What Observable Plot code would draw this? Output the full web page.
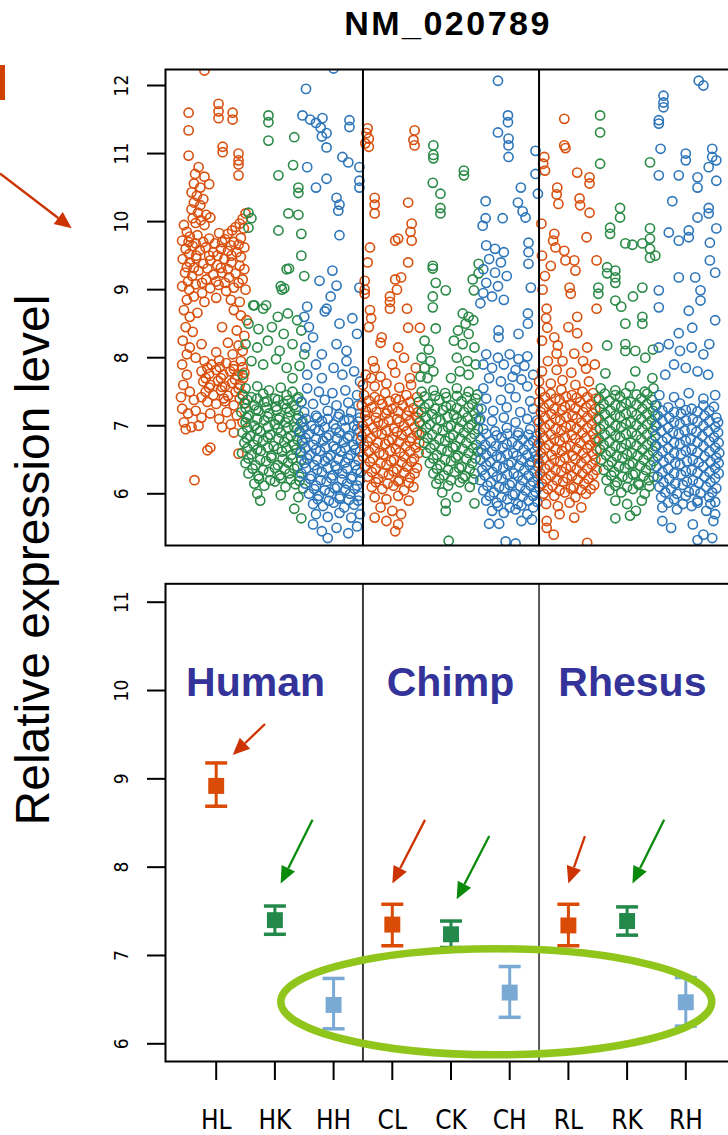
<!DOCTYPE html>
<html><head><meta charset="utf-8">
<script src="https://cdn.jsdelivr.net/npm/d3@7"></script>
<script src="https://cdn.jsdelivr.net/npm/@observablehq/plot@0.6"></script>
<style>
html,body{margin:0;padding:0;background:#fff;width:728px;height:1135px;overflow:hidden;}
#wrap{position:relative;width:728px;height:1135px;overflow:hidden;background:#fff;}
.abs{position:absolute;}
#title{left:248px;width:400px;top:6px;text-align:center;font:bold 34px "Liberation Sans",Arial,sans-serif;letter-spacing:2.5px;line-height:1;color:#000;}
#ylab{left:33px;top:560px;width:620px;text-align:center;font:48px "Liberation Sans",Arial,sans-serif;line-height:1;color:#000;transform:translate(-50%,-50%) rotate(-90deg);white-space:nowrap;}
#bar{left:0;top:65px;width:5px;height:35px;background:#D04000;}
#topplot{left:0;top:0;}
#botplot{left:0;top:560px;}
</style></head><body><div id="wrap">
<div id="title" class="abs">NM_020789</div>
<div id="ylab" class="abs">Relative expression level</div>
<div id="bar" class="abs"></div>
<div id="topplot" class="abs"></div>
<div id="botplot" class="abs"></div>
</div>
<script>
// ---------- data ----------
const groups = ["HL","HK","HH","CL","CK","CH","RL","RK","RH"];
const species = ["Human","Chimp","Rhesus"];
const speciesX = [1.67, 4.99, 8.09];
const speciesY = 10.09;
const topTicks = [6,7,8,9,10,11,12];
const bottomTicks = [6,7,8,9,10,11];
const dividers = [3.5, 6.5];

// bottom panel: mean and error-bar limits per group
const means = [8.92, 7.40, 6.44, 7.35, 7.24, 6.58, 7.34, 7.39, 6.47];
const lows  = [8.69, 7.24, 6.17, 7.11, 7.09, 6.30, 7.11, 7.23, 6.20];
const highs = [9.18, 7.56, 6.74, 7.58, 7.39, 6.875, 7.58, 7.55, 6.75];

// annotation arrows (data units): [x1, y1, x2, y2, tissue]
const bottomArrows = [
  [1.84, 9.615, 1.29, 9.264, "L"],
  [2.65, 8.53, 2.107, 7.81, "K"],
  [4.566, 8.53, 4.01, 7.81, "L"],
  [5.66, 8.347, 5.105, 7.63, "K"],
  [7.29, 8.347, 7.007, 7.81, "L"],
  [8.64, 8.53, 8.10, 7.81, "K"]
];
const topArrows = [[-2.675, 10.70, -1.453, 9.894, "L"]];
const ellipseCenter = [5.78, 6.47];

// top panel: jittered points per group, [jitter, expression]
const HL = [[.04,11.73],[.04,11.62],[.04,11.52],[-.47,11.6],[-.47,11.34],[-.47,10.97],[.28,11.6],[.28,11.5],[.11,11.1],[.11,11.02],[.38,11.0],[.38,10.9],[.38,10.84],[.38,10.68],[-.2,12.22],[-.12,10.55],
[-.3,10.8],[-.36,10.7],[-.2,10.66],[-.38,10.56],[-.27,10.5],[-.42,10.43],[-.33,10.38],[-.22,10.33],[-.38,10.28],[-.27,10.24],[-.42,10.18],[-.31,10.13],[-.17,10.1],[-.4,10.05],[-.26,10.02],[-.1,10.06],[-.35,9.98],[-.2,9.95],
[.5,10.12],[.45,10.04],[.4,9.97],[.33,9.92],[.27,9.87],[.2,9.82],[.47,9.9],
[-.55,9.95],[-.5,9.85],[-.58,9.72],[-.45,9.78],[-.32,9.8],[-.12,9.75],[.05,9.83],[.15,9.74],[.3,9.7],[.42,9.76],
[-.52,9.6],[-.4,9.64],[-.28,9.58],[-.18,9.62],[-.05,9.55],[.08,9.6],[.2,9.57],[.35,9.55],[.48,9.62],
[-.57,9.45],[-.45,9.4],[-.34,9.46],[-.22,9.38],[-.1,9.43],[.02,9.36],[.14,9.45],[.26,9.4],[.4,9.35],
[-.53,9.25],[-.41,9.2],[-.3,9.28],[-.17,9.15],[-.05,9.22],[.1,9.25],[.22,9.18],[.33,9.24],[.45,9.15],
[-.58,9.05],[-.46,9.0],[-.35,9.08],[-.24,8.95],[-.1,9.02],[.04,9.07],[.17,8.98],[.3,9.03],[.5,9.0],
[-.5,8.85],[-.38,8.9],[-.2,8.82],[.0,8.88],[.25,8.85],[.4,8.82],
[-.55,8.7],[-.45,8.6],[-.32,8.66],[.3,8.7],[.42,8.62],[.52,8.55],[-.52,8.45],[-.4,8.38],[.1,8.45],[.35,8.4],[.48,8.32],[-.57,8.25],[-.45,8.15],[-.25,8.2],[.2,8.22],[.38,8.18],[-.5,8.05],[-.35,8.0],[.0,8.08],[.28,8.05],[.45,8.1],
[-.2,7.95],[-.08,7.9],[.05,7.96],[.17,7.92],[.3,7.88],[.42,7.95],
[-.25,7.8],[-.12,7.76],[.0,7.82],[.12,7.75],[.24,7.8],[.36,7.74],[.48,7.78],
[-.22,7.65],[-.1,7.6],[.03,7.66],[.15,7.58],[.27,7.63],[.4,7.6],
[-.18,7.5],[-.05,7.45],[.08,7.52],[.2,7.44],[.33,7.5],[.45,7.46],
[-.58,7.9],[-.5,7.75],[-.56,7.6],[-.45,7.5],[-.6,7.42],[-.38,7.38],
[-.15,7.35],[.0,7.32],[.15,7.36],[.3,7.3],[.5,7.33],
[-.58,7.25],[-.48,7.18],[-.35,7.22],[-.25,7.12],[-.1,7.18],[.05,7.1],[.18,7.2],[.35,7.15],[.45,7.05],[-.55,7.05],[-.42,6.98],[-.3,7.0],[.1,6.98],[.25,7.02],
[-.52,6.95],[-.1,6.68],[-.15,6.64],[.38,6.59],[.3,6.9],[-.37,6.2],
[-.47,9.7],[-.35,9.68],[-.22,9.7],[-.02,9.68],[.1,9.7],[.25,9.65],[.38,9.66],
[-.46,9.52],[-.34,9.5],[-.12,9.5],[.02,9.5],[.26,9.5],[.42,9.48],
[-.5,9.33],[-.38,9.32],[-.15,9.31],[.08,9.32],[.2,9.3],[.48,9.3],
[-.48,9.12],[-.24,9.1],[.0,9.12],[.15,9.1],[.38,9.1],
[-.15,7.85],[.06,7.86],[.3,7.83],[.45,7.86],
[-.18,7.7],[.08,7.7],[.32,7.68],[.46,7.7],
[-.12,7.56],[.1,7.57],[.38,7.55],
[-.25,7.42],[.13,7.4],[.4,7.4]];

const HK = [[-.11,11.56],[-.11,11.46],[-.11,11.19],[.33,11.24],[.06,10.68],[.31,10.83],[.4,10.5],[.4,10.42],[.23,10.12],[.4,10.1],[.06,9.87],[.45,9.82],[-.45,10.13],[-.4,10.05],[-.45,9.91],[.45,9.5],[.24,9.31],[.5,9.2],[.16,9.02],[.12,9.0],[-.35,8.77],[-.15,8.77],[.1,9.05],[.2,9.3],
[-.37,8.77],[-.2,8.72],[.05,8.6],[.22,8.65],[.38,8.55],[-.45,8.5],[-.28,8.42],[-.05,8.45],[.15,8.35],[.45,8.4],[-.5,8.2],[-.3,8.15],[-.12,8.25],[.08,8.1],[.3,8.2],[.5,8.05],[-.4,7.95],[-.2,7.9],[.02,7.98],[.2,7.85],[.42,7.88],[-.55,7.75],[.3,7.7],
[-.5,7.55],[-.3,7.58],[-.1,7.52],[.1,7.56],[.3,7.5],
[-.55,7.45],[-.4,7.42],[-.2,7.47],[0,7.4],[.2,7.45],[.4,7.42],
[-.52,7.33],[-.35,7.3],[-.18,7.35],[.02,7.28],[.15,7.32],[.32,7.3],[.45,7.35],
[-.57,7.2],[-.45,7.15],[-.28,7.22],[-.1,7.18],[.08,7.12],[.25,7.2],[.4,7.15],
[-.5,7.05],[-.35,7.0],[-.18,7.08],[0,7.02],[.18,7.05],[.33,6.98],[.47,7.06],
[-.55,6.9],[-.42,6.85],[-.25,6.92],[-.08,6.87],[.1,6.9],[.27,6.85],[.42,6.92],
[-.52,6.75],[-.36,6.72],[-.2,6.78],[-.02,6.7],[.16,6.76],[.32,6.72],[.46,6.78],
[-.56,6.6],[-.4,6.58],[-.24,6.63],[-.06,6.56],[.12,6.62],[.28,6.57],[.44,6.62],
[-.5,6.45],[-.33,6.42],[-.15,6.48],[.05,6.42],[.22,6.46],[.38,6.4],
[-.45,6.3],[-.28,6.26],[-.1,6.32],[.08,6.27],[.25,6.3],[.42,6.25],
[-.35,6.15],[-.18,6.12],[0,6.18],[.18,6.1],[.35,6.14],[.48,6.08],
[-.3,6.0],[-.25,5.9],[.33,5.78],[.45,5.64],[.1,5.98],[.4,5.95],
[-.47,7.38],[-.3,7.4],[-.13,7.36],[.05,7.38],[.22,7.37],[.38,7.4],
[-.5,7.26],[-.32,7.24],[-.15,7.27],[.03,7.23],[.2,7.26],[.36,7.24],
[-.48,7.12],[-.3,7.1],[-.12,7.13],[.06,7.09],[.22,7.12],[.38,7.1],
[-.47,6.97],[-.3,6.95],[-.12,6.98],[.05,6.96],[.22,6.97],[.38,6.95],
[-.48,6.82],[-.3,6.8],[-.12,6.83],[.06,6.81],[.22,6.82],[.38,6.8],
[-.47,6.67],[-.3,6.65],[-.12,6.68],[.05,6.66],[.2,6.67],[.36,6.65],
[-.45,6.52],[-.25,6.5],[-.06,6.53],[.13,6.51],[.3,6.52],[.45,6.5],
[-.38,6.37],[-.2,6.35],[0,6.38],[.17,6.36],[.33,6.37],
[-.27,6.22],[-.08,6.2],[.1,6.23],[.27,6.21],[.42,6.19]];

const HH = [[-.47,11.95],[-.53,11.56],[-.4,11.5],[-.3,11.45],[-.19,11.52],[-.22,11.38],[-.12,11.3],[-.2,11.25],[.27,11.49],[.27,11.39],[-.12,11.09],[-.45,10.8],[.15,10.95],[.25,10.87],[-.3,10.5],[-.12,10.63],[.05,10.35],[.1,10.25],[.08,10.16],[.1,9.8],[-.02,9.28],[-.24,9.13],[.05,9.06],[.44,9.03],[.44,10.8],[.44,10.6],[.44,10.5],[.0,12.25],
[-.45,8.75],[-.12,8.72],[-.15,8.68],[.32,8.58],[-.5,8.6],[-.42,8.45],[-.35,8.3],[-.48,8.15],[.22,8.1],[.22,7.95],[-.2,8.05],[.05,8.2],[.4,8.35],[-.3,7.9],[0,7.85],[.15,7.75],[.35,7.8],[-.45,7.75],[-.2,7.7],[.45,7.65],[.1,8.5],[-.05,8.9],
[-.45,7.55],[-.25,7.5],[-.02,7.48],[.2,7.52],[.4,7.45],
[-.55,7.35],[-.35,7.32],[-.15,7.38],[.05,7.3],[.25,7.34],[.42,7.3],
[-.5,7.2],[-.3,7.15],[-.1,7.22],[.1,7.17],[.3,7.2],[.45,7.12],
[-.55,7.05],[-.38,7.0],[-.2,7.07],[0,7.02],[.18,7.08],[.35,7.0],
[-.58,6.9],[-.42,6.88],[-.25,6.93],[-.08,6.86],[.1,6.9],[.27,6.85],[.44,6.92],
[-.52,6.75],[-.35,6.72],[-.18,6.78],[0,6.7],[.17,6.76],[.34,6.72],[.46,6.78],
[-.56,6.6],[-.4,6.57],[-.23,6.63],[-.05,6.56],[.12,6.62],[.29,6.57],[.45,6.62],
[-.5,6.45],[-.33,6.42],[-.15,6.48],[.03,6.41],[.2,6.46],[.37,6.42],
[-.55,6.3],[-.38,6.26],[-.2,6.32],[-.02,6.27],[.15,6.3],[.32,6.25],[.46,6.31],
[-.48,6.15],[-.3,6.12],[-.12,6.18],[.06,6.1],[.23,6.15],[.4,6.12],
[-.42,6.0],[-.25,5.97],[-.07,6.02],[.11,5.96],[.28,6.0],[.44,5.97],
[-.35,5.85],[-.18,5.82],[0,5.87],[.18,5.8],[.35,5.84],
[-.3,5.7],[-.1,5.66],[.1,5.72],[.3,5.65],[.45,5.7],
[-.35,5.55],[-.2,5.45],[.05,5.5],[.25,5.42],[.4,5.52],[-.1,5.35],
[-.47,7.1],[-.28,7.12],[-.1,7.1],[.08,7.13],[.26,7.1],[.42,7.06],
[-.5,6.97],[-.32,6.95],[-.15,6.98],[.04,6.96],[.2,6.97],[.4,6.95],
[-.48,6.82],[-.3,6.8],[-.12,6.83],[.06,6.81],[.24,6.82],[.4,6.8],
[-.48,6.67],[-.3,6.65],[-.14,6.68],[.04,6.66],[.2,6.67],[.37,6.65],
[-.45,6.52],[-.28,6.5],[-.1,6.53],[.08,6.51],[.25,6.52],[.42,6.5],
[-.47,6.37],[-.28,6.35],[-.1,6.38],[.06,6.36],[.23,6.37],[.4,6.35],
[-.4,6.22],[-.22,6.2],[-.04,6.23],[.14,6.21],[.3,6.22],[.45,6.2],
[-.33,6.07],[-.15,6.05],[.02,6.08],[.2,6.06],[.36,6.07],
[-.27,5.92],[-.08,5.9],[.1,5.93],[.26,5.91],[.42,5.9]];

const CL = [[-.42,11.37],[-.44,11.3],[-.4,11.22],[-.46,11.15],[-.4,11.1],[.38,11.34],[.36,11.2],[.38,11.12],[-.3,10.35],[-.3,10.25],[-.3,10.12],[.27,10.28],[.05,9.72],[.1,9.75],[.33,9.97],[.31,9.85],[.33,9.72],[-.38,9.62],[-.42,9.4],[.27,9.4],[.05,9.15],[.15,9.18],[.08,9.0],[-.47,9.13],[-.47,9.0],[-.47,8.94],[-.04,8.9],[-.04,8.82],[-.04,8.72],[.25,8.72],[-.38,8.7],[-.36,8.58],[-.4,8.45],[-.18,8.3],[-.2,8.22],[.27,8.44],[.47,8.44],[.1,8.15],[-.33,7.95],[-.3,7.85],[-.36,7.7],[.2,8.0],[.0,7.9],[.4,7.85],
[-.45,7.75],[-.2,7.72],[.05,7.78],[.3,7.7],
[-.5,7.6],[-.3,7.58],[-.1,7.62],[.12,7.56],[.32,7.6],
[-.48,7.45],[-.3,7.42],[-.12,7.48],[.06,7.4],[.24,7.45],[.42,7.42],
[-.52,7.3],[-.35,7.27],[-.17,7.32],[0,7.25],[.18,7.3],[.36,7.26],
[-.46,7.15],[-.28,7.12],[-.1,7.18],[.08,7.1],[.25,7.15],[.42,7.12],
[-.5,7.0],[-.33,6.97],[-.15,7.03],[.03,6.96],[.2,7.0],[.38,6.98],
[-.52,6.85],[-.36,6.82],[-.18,6.88],[0,6.8],[.16,6.86],[.33,6.82],[.46,6.87],
[-.48,6.7],[-.3,6.67],[-.12,6.73],[.06,6.66],[.23,6.7],[.4,6.68],
[-.5,6.55],[-.33,6.52],[-.15,6.58],[.03,6.5],[.2,6.55],[.37,6.52],
[-.46,6.4],[-.28,6.37],[-.1,6.43],[.08,6.36],[.25,6.4],[.42,6.38],
[-.42,6.25],[-.24,6.22],[-.06,6.28],[.12,6.2],[.3,6.24],
[-.35,6.1],[-.17,6.07],[.02,6.12],[.2,6.05],[.36,6.1],
[-.3,5.95],[-.1,5.92],[.1,5.97],[.28,5.9],
[-.2,5.8],[0,5.75],[.15,5.7],[-.1,5.6],[.1,5.55],[-.3,5.65],[.05,5.45],
[-.4,7.37],[-.22,7.38],[-.05,7.36],[.12,7.38],[.3,7.35],
[-.45,7.22],[-.27,7.2],[-.08,7.23],[.1,7.21],[.28,7.22],[.44,7.2],
[-.42,7.07],[-.24,7.05],[-.06,7.08],[.12,7.06],[.3,7.07],[.46,7.05],
[-.45,6.92],[-.27,6.9],[-.1,6.93],[.08,6.91],[.25,6.92],[.42,6.9],
[-.42,6.77],[-.25,6.75],[-.06,6.78],[.12,6.76],[.3,6.77],[.46,6.75],
[-.4,6.62],[-.22,6.6],[-.04,6.63],[.13,6.61],[.3,6.62],[.45,6.6],
[-.38,6.47],[-.2,6.45],[-.02,6.48],[.16,6.46],[.33,6.47],
[-.35,6.32],[-.16,6.3],[.02,6.33],[.2,6.31],[.38,6.3],
[-.28,6.17],[-.08,6.15],[.1,6.18],[.28,6.16]];

const CK = [[-.3,11.12],[-.3,10.98],[-.3,10.93],[.22,10.75],[.22,10.68],[-.31,10.57],[-.18,10.41],[-.18,10.2],[-.18,10.12],[-.31,9.35],[-.31,9.31],[-.26,9.1],[-.09,8.99],[-.31,8.9],[-.31,8.74],[-.26,8.43],[.39,8.99],[.47,9.38],[.47,9.24],[.37,9.15],
[.2,8.65],[.3,8.6],[.25,8.5],[.38,8.55],[.12,8.4],[.3,8.35],[.05,8.25],[.2,8.2],[.4,8.15],[.1,8.0],[.28,7.95],[.42,7.9],[.15,7.8],[.3,7.75],[.0,7.7],
[-.45,8.25],[-.38,8.12],[-.5,8.0],[-.35,7.95],[-.45,7.85],[-.3,7.8],[-.52,7.72],[-.4,7.7],
[-.5,7.5],[-.3,7.52],[-.1,7.48],[.1,7.55],[.3,7.5],[.45,7.46],
[-.55,7.35],[-.38,7.32],[-.2,7.38],[0,7.3],[.18,7.36],[.36,7.32],
[-.5,7.2],[-.32,7.17],[-.14,7.23],[.05,7.16],[.22,7.2],[.4,7.18],
[-.53,7.05],[-.36,7.02],[-.18,7.08],[0,7.0],[.18,7.06],[.35,7.02],[.48,7.08],
[-.5,6.9],[-.32,6.87],[-.14,6.93],[.04,6.86],[.22,6.9],[.4,6.88],
[-.46,6.75],[-.28,6.72],[-.1,6.78],[.08,6.7],[.26,6.75],[.43,6.72],
[-.42,6.6],[-.24,6.57],[-.06,6.63],[.12,6.56],[.3,6.6],[.46,6.62],
[-.36,6.45],[-.18,6.42],[0,6.48],[.18,6.4],[.36,6.45],
[-.3,6.3],[-.12,6.27],[.06,6.32],[.24,6.26],[.4,6.3],
[-.25,6.15],[-.05,6.12],[.15,6.17],[.32,6.1],
[-.15,6.02],[-.09,5.86],[-.09,5.75],[.4,5.86],[-.04,5.31],[.1,5.95],
[-.45,7.43],[-.27,7.44],[-.08,7.42],[.1,7.44],[.27,7.42],[.42,7.4],
[-.45,7.27],[-.27,7.25],[-.08,7.28],[.1,7.26],[.3,7.27],[.46,7.25],
[-.43,7.12],[-.25,7.1],[-.06,7.13],[.1,7.11],[.28,7.12],[.43,7.1],
[-.42,6.97],[-.24,6.95],[-.05,6.98],[.13,6.96],[.3,6.97],[.46,6.95],
[-.4,6.82],[-.2,6.8],[-.02,6.83],[.16,6.81],[.34,6.82],
[-.35,6.67],[-.16,6.65],[.03,6.68],[.2,6.66],[.38,6.67],
[-.3,6.52],[-.1,6.5],[.08,6.53],[.26,6.51],[.42,6.52],
[-.24,6.37],[-.05,6.35],[.14,6.38],[.32,6.36],
[-.2,6.22],[0,6.2],[.2,6.23],[.38,6.21]];

const CH = [[-.2,12.07],[-.03,11.56],[-.03,11.46],[-.2,11.31],[-.02,11.22],[-.02,11.12],[-.02,10.95],[.44,11.04],[.44,10.7],[.19,10.5],[.14,10.28],[.22,10.15],[.27,10.06],[-.41,10.3],[-.41,10.05],[-.12,10.05],[-.46,9.94],[.48,10.41],[.32,9.69],[.32,9.55],[.32,9.38],[.36,9.03],[.31,8.65],[.31,8.5],[-.19,8.4],[-.19,8.3],[.15,8.35],
[-.4,9.65],[-.25,9.6],[-.1,9.55],[-.35,9.45],[-.15,9.4],[-.45,9.3],[-.25,9.25],[-.05,9.2],[-.4,9.1],[-.2,9.05],[-.45,8.95],[-.3,8.9],[-.1,8.85],[-.5,8.8],
[-.4,8.05],[-.2,8.0],[0,8.05],[.15,7.98],[.3,8.02],[-.45,7.9],[-.3,7.85],[-.1,7.9],[.1,7.82],[.25,7.88],[-.35,7.7],[-.15,7.65],[.05,7.72],[.2,7.68],[.4,7.75],[-.45,7.55],[0,7.55],[.3,7.58],
[-.4,7.4],[-.15,7.38],[.1,7.42],[.35,7.36],
[-.48,7.25],[-.28,7.22],[-.05,7.27],[.18,7.2],[.4,7.25],
[-.5,7.1],[-.3,7.07],[-.1,7.12],[.1,7.05],[.3,7.1],[.47,7.08],
[-.45,6.95],[-.25,6.92],[-.05,6.97],[.15,6.9],[.35,6.95],
[-.5,6.8],[-.32,6.77],[-.14,6.83],[.04,6.76],[.22,6.8],[.4,6.78],
[-.48,6.65],[-.3,6.62],[-.12,6.68],[.06,6.6],[.24,6.65],[.42,6.62],
[-.5,6.5],[-.33,6.47],[-.15,6.53],[.03,6.46],[.2,6.5],[.37,6.47],[.48,6.52],
[-.47,6.35],[-.29,6.32],[-.11,6.38],[.07,6.3],[.25,6.35],[.42,6.33],
[-.5,6.2],[-.32,6.17],[-.14,6.23],[.04,6.16],[.22,6.2],[.4,6.18],
[-.45,6.05],[-.27,6.02],[-.09,6.08],[.09,6.0],[.27,6.05],[.44,6.03],
[-.4,5.9],[-.22,5.87],[-.04,5.92],[.14,5.85],[.32,5.9],[.47,5.88],
[-.3,5.75],[-.1,5.72],[.1,5.77],[.3,5.7],
[-.35,5.56],[-.18,5.56],[-.07,5.3],[.1,5.27],[.2,5.6],[.38,5.62],
[-.4,6.88],[-.22,6.86],[-.04,6.88],[.14,6.86],[.32,6.87],[.46,6.85],
[-.42,6.72],[-.24,6.7],[-.05,6.73],[.14,6.71],[.32,6.72],[.47,6.7],
[-.4,6.57],[-.22,6.55],[-.04,6.58],[.12,6.56],[.3,6.57],[.44,6.55],
[-.4,6.42],[-.22,6.4],[-.02,6.43],[.16,6.41],[.34,6.42],[.48,6.4],
[-.42,6.27],[-.22,6.25],[-.04,6.28],[.14,6.26],[.32,6.27],[.47,6.25],
[-.38,6.12],[-.18,6.1],[0,6.13],[.18,6.11],[.36,6.12],[.5,6.1],
[-.34,5.97],[-.14,5.95],[.05,5.98],[.22,5.96],[.4,5.97],
[-.2,5.82],[0,5.8],[.2,5.83],[.4,5.8]];

const RL = [[-.07,11.51],[-.07,11.12],[-.05,11.08],[-.41,10.95],[-.43,10.85],[-.4,10.75],[.15,10.72],[.36,10.65],[.36,10.56],[-.19,10.5],[-.2,10.4],[-.17,10.26],[.19,10.34],[.2,10.24],[.36,10.13],[-.46,9.97],[-.24,9.82],[-.26,9.72],[-.22,9.62],[.31,9.77],[-.07,9.57],[-.05,9.43],[.1,9.43],[.12,9.28],[.48,9.43],[.02,9.03],[.04,8.94],[-.44,9.0],[.48,8.72],[.15,8.6],[-.37,8.72],[-.38,8.58],[-.36,8.44],[.15,8.36],[-.24,8.3],[-.18,8.18],[-.2,8.06],[.32,8.15],[.1,8.06],[-.45,9.5],[-.4,9.2],[-.3,9.35],[-.45,8.25],[.0,8.45],[-.1,7.95],[.25,7.95],[.45,7.9],[-.35,7.95],
[-.45,7.8],[-.2,7.82],[.05,7.78],[.3,7.84],
[-.5,7.65],[-.3,7.62],[-.1,7.67],[.12,7.6],[.35,7.65],
[-.48,7.5],[-.3,7.47],[-.12,7.53],[.06,7.45],[.24,7.5],[.42,7.48],
[-.5,7.35],[-.33,7.32],[-.15,7.38],[.03,7.3],[.2,7.35],[.38,7.32],
[-.47,7.2],[-.29,7.17],[-.11,7.23],[.07,7.15],[.25,7.2],[.42,7.18],
[-.5,7.05],[-.32,7.02],[-.14,7.08],[.04,7.0],[.22,7.05],[.4,7.03],
[-.48,6.9],[-.3,6.87],[-.12,6.93],[.06,6.86],[.24,6.9],[.42,6.88],
[-.5,6.75],[-.33,6.72],[-.15,6.78],[.03,6.7],[.2,6.75],[.37,6.72],[.48,6.77],
[-.47,6.6],[-.29,6.57],[-.11,6.63],[.07,6.56],[.25,6.6],[.42,6.58],
[-.5,6.45],[-.32,6.42],[-.14,6.48],[.04,6.4],[.22,6.45],[.4,6.43],
[-.48,6.3],[-.3,6.27],[-.12,6.33],[.06,6.26],[.24,6.3],[.42,6.28],
[-.45,6.15],[-.27,6.12],[-.09,6.18],[.09,6.1],[.27,6.15],[.44,6.13],
[-.42,6.0],[-.24,5.97],[-.06,6.02],[.12,5.95],[.3,6.0],
[-.38,5.85],[-.18,5.82],[.02,5.87],[.22,5.8],
[-.37,5.6],[-.37,5.5],[-.15,5.7],[.1,5.65],[.32,5.28],[-.25,5.4],
[-.4,7.42],[-.22,7.4],[-.04,7.43],[.14,7.41],[.32,7.42],[.47,7.4],
[-.42,7.27],[-.24,7.25],[-.06,7.28],[.12,7.26],[.3,7.27],[.46,7.25],
[-.4,7.12],[-.22,7.1],[-.04,7.13],[.14,7.11],[.32,7.12],[.48,7.1],
[-.4,6.97],[-.22,6.95],[-.04,6.98],[.14,6.96],[.32,6.97],[.47,6.95],
[-.42,6.82],[-.24,6.8],[-.06,6.83],[.12,6.81],[.3,6.82],[.45,6.8],
[-.4,6.67],[-.22,6.65],[-.04,6.68],[.14,6.66],[.32,6.67],[.48,6.65],
[-.42,6.52],[-.24,6.5],[-.06,6.53],[.12,6.51],[.3,6.52],[.46,6.5],
[-.4,6.37],[-.22,6.35],[-.04,6.38],[.14,6.36],[.32,6.37],[.48,6.35],
[-.38,6.22],[-.2,6.2],[-.02,6.23],[.16,6.21],[.34,6.22],
[-.35,6.07],[-.15,6.05],[.04,6.08],[.22,6.06],[.38,6.07]];

const RK = [[-.46,11.56],[-.46,11.31],[-.46,10.85],[.39,10.87],[-.12,10.2],[-.12,10.06],[-.29,9.91],[-.29,9.82],[-.03,9.68],[.09,9.66],[.39,9.9],[.39,9.75],[.39,9.6],[.39,9.47],[.26,9.68],[.48,9.5],[-.34,9.33],[-.34,9.24],[-.2,9.28],[-.2,9.18],[-.2,9.1],[-.49,9.03],[-.49,8.94],[-.2,8.84],[.26,9.03],[-.03,8.5],[.26,8.6],[.26,8.5],[-.34,8.18],[-.03,8.2],[-.03,8.1],[.14,8.1],[.31,8.0],[.44,8.12],[-.37,7.77],[.14,7.8],[.43,7.7],[.1,8.9],[-.1,8.75],
[-.45,7.55],[-.2,7.52],[.05,7.58],[.3,7.5],[.45,7.55],
[-.48,7.4],[-.3,7.37],[-.12,7.43],[.06,7.35],[.24,7.4],[.42,7.38],
[-.46,7.25],[-.28,7.22],[-.1,7.28],[.08,7.2],[.26,7.25],[.44,7.22],
[-.48,7.1],[-.3,7.07],[-.12,7.13],[.06,7.05],[.24,7.1],[.42,7.08],
[-.46,6.95],[-.28,6.92],[-.1,6.98],[.08,6.9],[.26,6.95],[.44,6.93],
[-.48,6.8],[-.3,6.77],[-.12,6.83],[.06,6.75],[.24,6.8],[.42,6.78],
[-.46,6.65],[-.28,6.62],[-.1,6.68],[.08,6.6],[.26,6.65],[.44,6.63],
[-.44,6.5],[-.26,6.47],[-.08,6.53],[.1,6.45],[.28,6.5],[.45,6.48],
[-.4,6.35],[-.22,6.32],[-.04,6.38],[.14,6.3],[.32,6.35],
[-.35,6.2],[-.17,6.17],[.01,6.23],[.19,6.15],[.37,6.2],
[-.3,6.05],[-.1,6.02],[.1,6.07],[.3,6.0],
[-.2,5.9],[0,5.85],[.15,5.75],[-.2,5.64],[.05,5.68],[.25,5.9],
[-.38,7.47],[-.2,7.45],[-.02,7.48],[.16,7.46],[.34,7.47],
[-.4,7.32],[-.2,7.3],[-.02,7.33],[.16,7.31],[.34,7.32],[.48,7.3],
[-.38,7.17],[-.2,7.15],[-.02,7.18],[.16,7.16],[.34,7.17],[.48,7.15],
[-.4,7.02],[-.2,7.0],[-.02,7.03],[.16,7.01],[.34,7.02],[.48,7.0],
[-.38,6.87],[-.2,6.85],[-.02,6.88],[.16,6.86],[.34,6.87],[.48,6.85],
[-.4,6.72],[-.2,6.7],[-.02,6.73],[.16,6.71],[.34,6.72],[.48,6.7],
[-.36,6.57],[-.18,6.55],[0,6.58],[.18,6.56],[.36,6.57],
[-.32,6.42],[-.14,6.4],[.04,6.43],[.22,6.41],[.4,6.42],
[-.27,6.27],[-.08,6.25],[.1,6.28],[.28,6.26],[.45,6.25],
[-.2,6.12],[0,6.1],[.2,6.13],[.38,6.11]];

const RH = [[.22,12.07],[.3,12.0],[-.38,11.85],[-.38,11.75],[-.38,11.68],[-.46,11.49],[-.46,11.44],[-.43,11.07],[-.46,10.68],[0,11.0],[0,10.9],[-.12,10.68],[.2,10.65],[.2,10.5],[.45,11.07],[.45,10.95],[.39,10.8],[-.23,10.3],[.39,10.2],[.39,10.12],[-.29,9.84],[-.12,9.72],[.05,9.87],[.05,9.77],[.2,10.06],[.41,9.69],[.41,9.43],[-.12,9.18],[.16,9.18],[.25,8.99],[.25,8.84],[-.46,8.99],[-.46,8.74],[.05,8.69],[.11,8.44],[-.12,8.36],[-.46,8.15],[-.29,8.2],[-.1,8.1],[.1,8.15],[.3,8.05],[.4,8.2],[-.2,7.9],[.0,7.85],[.2,7.8],[.38,7.75],[-.35,7.75],[.52,10.6],[.52,10.9],[.52,9.9],[.5,9.25],[.5,8.55],
[-.45,7.45],[-.2,7.42],[.05,7.48],[.3,7.4],[.5,7.45],
[-.5,7.3],[-.3,7.27],[-.1,7.33],[.1,7.25],[.3,7.3],[.48,7.28],
[-.48,7.15],[-.28,7.12],[-.08,7.18],[.12,7.1],[.32,7.15],[.52,7.12],
[-.5,7.0],[-.3,6.97],[-.1,7.03],[.1,6.95],[.3,7.0],[.5,6.98],
[-.52,6.85],[-.32,6.82],[-.12,6.88],[.08,6.8],[.28,6.85],[.48,6.83],
[-.5,6.7],[-.3,6.67],[-.1,6.73],[.1,6.65],[.3,6.7],[.5,6.68],
[-.48,6.55],[-.28,6.52],[-.08,6.58],[.12,6.5],[.32,6.55],[.52,6.53],
[-.5,6.4],[-.3,6.37],[-.1,6.43],[.1,6.35],[.3,6.4],[.5,6.38],
[-.48,6.25],[-.28,6.22],[-.08,6.28],[.12,6.2],[.32,6.25],[.5,6.23],
[-.45,6.1],[-.25,6.07],[-.05,6.13],[.15,6.05],[.35,6.1],[.52,6.08],
[-.42,5.95],[-.2,5.92],[0,5.97],[.2,5.9],[.4,5.95],[.5,5.88],
[-.4,5.8],[-.15,5.77],[.1,5.82],[.35,5.75],[.5,5.7],
[-.4,5.6],[-.25,5.5],[.12,5.55],[.3,5.4],[.47,5.6],[.2,5.32],[.45,5.35],
[-.4,7.22],[-.2,7.2],[0,7.23],[.2,7.21],[.4,7.22],
[-.4,7.07],[-.2,7.05],[0,7.08],[.2,7.06],[.4,7.07],[.55,7.05],
[-.42,6.92],[-.22,6.9],[-.02,6.93],[.18,6.91],[.38,6.92],[.55,6.9],
[-.4,6.77],[-.2,6.75],[0,6.78],[.2,6.76],[.4,6.77],[.56,6.75],
[-.4,6.62],[-.2,6.6],[0,6.63],[.2,6.61],[.4,6.62],[.57,6.6],
[-.38,6.47],[-.18,6.45],[.02,6.48],[.22,6.46],[.42,6.47],[.56,6.45],
[-.4,6.32],[-.2,6.3],[0,6.33],[.2,6.31],[.4,6.32],[.56,6.3],
[-.38,6.17],[-.18,6.15],[.02,6.18],[.22,6.16],[.42,6.17],
[-.35,6.02],[-.15,6.0],[.05,6.03],[.25,6.01],[.45,6.02],
[-.3,5.87],[-.05,5.85],[.2,5.87],[.42,5.85]];

// ---------- styling ----------
const topColors = {L: "#D9500F", K: "#2A8A47", H: "#2D76BA"};
const barColors = {L: "#DA4B05", K: "#23894A", H: "#7AAAD4"};
const arrowColors = {L: "#CC3300", K: "#0A8A0A"};
const tickFont = "'Liberation Sans Narrow','DejaVu Sans Condensed','Liberation Sans',Arial,sans-serif";
const W = 780;
const xScale = {type: "linear", domain: [1, 9], range: [215.7, 685.3], axis: null};

// ---------- derived tables ----------
const topSeries = {HL, HK, HH, CL, CK, CH, RL, RK, RH};
const topPts = groups.flatMap((g, i) => topSeries[g].map(([j, v]) => ({x: i + 1 + j, y: v, t: g[1]})));
const bars = groups.map((g, i) => ({x: i + 1, mean: means[i], lo: lows[i], hi: highs[i], t: g[1]}));
const speciesLabels = species.map((s, i) => ({s, x: speciesX[i], y: speciesY}));

const capSymbol = {draw(ctx, size) { const r = Math.sqrt(size / Math.PI); ctx.moveTo(-r, 0); ctx.lineTo(r, 0); }};

function arrowMark(list) {
  return (index, scales) => {
    const g = d3.create("svg:g");
    for (const [ax1, ay1, ax2, ay2, t] of list) {
      const x1 = scales.x(ax1), y1 = scales.y(ay1), x2 = scales.x(ax2), y2 = scales.y(ay2);
      const a = Math.atan2(y2 - y1, x2 - x1);
      const hl = 17, hw = 7.5;
      const bx = x2 - hl * Math.cos(a), by = y2 - hl * Math.sin(a);
      const c = arrowColors[t];
      g.append("line").attr("x1", x1).attr("y1", y1).attr("x2", bx).attr("y2", by)
        .attr("stroke", c).attr("stroke-width", 2.3);
      g.append("polygon")
        .attr("points", `${x2},${y2} ${bx + hw * Math.sin(a)},${by - hw * Math.cos(a)} ${bx - hw * Math.sin(a)},${by + hw * Math.cos(a)}`)
        .attr("fill", c);
    }
    return g.node();
  };
}

function ellipseMark(center) {
  return (index, scales) => d3.create("svg:ellipse")
    .attr("cx", scales.x(center[0])).attr("cy", scales.y(center[1]))
    .attr("rx", 215.5).attr("ry", 53)
    .attr("fill", "none").attr("stroke", "#90C51C").attr("stroke-width", 7.5)
    .node();
}

const baseStyle = {background: "transparent", maxWidth: "none", overflow: "visible", color: "#000", fontFamily: tickFont};
const intFmt = d => String(d);

// ---------- top panel ----------
const topPlot = Plot.plot({
  width: W, height: 560, marginLeft: 165, marginRight: 20, marginTop: 69, marginBottom: 15,
  style: baseStyle,
  x: xScale,
  y: {domain: [6, 12], range: [493.3, 85]},
  marks: [
    Plot.dot(topPts, {x: "x", y: "y", stroke: d => topColors[d.t], r: 4.6, strokeWidth: 1.6, clip: true}),
    Plot.ruleX(dividers, {stroke: "#000", strokeWidth: 2}),
    Plot.frame({stroke: "#000", strokeWidth: 2}),
    Plot.axisY({ticks: topTicks, tickFormat: intFmt, tickSize: 18, tickPadding: 20, tickRotate: -90, fontSize: 19, strokeWidth: 2, label: null}),
    arrowMark(topArrows)
  ]
});
document.getElementById("topplot").appendChild(topPlot);

// ---------- bottom panel ----------
const botPlot = Plot.plot({
  width: W, height: 575, marginLeft: 165, marginRight: 20, marginTop: 23.3, marginBottom: 74,
  style: baseStyle,
  x: xScale,
  y: {domain: [6, 11], range: [483.3, 41.7]},
  marks: [
    Plot.ruleX([dividers[0]], {stroke: "#3a3a3a", strokeWidth: 2}),
    Plot.ruleX([dividers[1]], {stroke: "#5a5a5a", strokeWidth: 2}),
    Plot.frame({stroke: "#000", strokeWidth: 2}),
    Plot.axisY({ticks: bottomTicks, tickFormat: intFmt, tickSize: 18, tickPadding: 20, tickRotate: -90, fontSize: 19, strokeWidth: 2, label: null}),
    Plot.axisX({ticks: groups.map((g, i) => i + 1), tickFormat: d => groups[d - 1], tickSize: 19, tickPadding: 30, fontSize: 26, strokeWidth: 2, label: null}),
    Plot.ruleX(bars, {x: "x", y1: "lo", y2: "hi", stroke: d => barColors[d.t], strokeWidth: 3}),
    Plot.dot(bars, {x: "x", y: "lo", symbol: capSymbol, r: 11, stroke: d => barColors[d.t], strokeWidth: 3.5}),
    Plot.dot(bars, {x: "x", y: "hi", symbol: capSymbol, r: 11, stroke: d => barColors[d.t], strokeWidth: 3.5}),
    Plot.dot(bars, {x: "x", y: "mean", symbol: "square", r: 9, fill: d => barColors[d.t], stroke: "none"}),
    Plot.text(speciesLabels, {x: "x", y: "y", text: "s", fill: "#333399", fontSize: 41, fontWeight: "bold", fontFamily: "'Liberation Sans',Arial,sans-serif", lineAnchor: "middle"}),
    ellipseMark(ellipseCenter),
    arrowMark(bottomArrows)
  ]
});
document.getElementById("botplot").appendChild(botPlot);
</script>
</body></html>
